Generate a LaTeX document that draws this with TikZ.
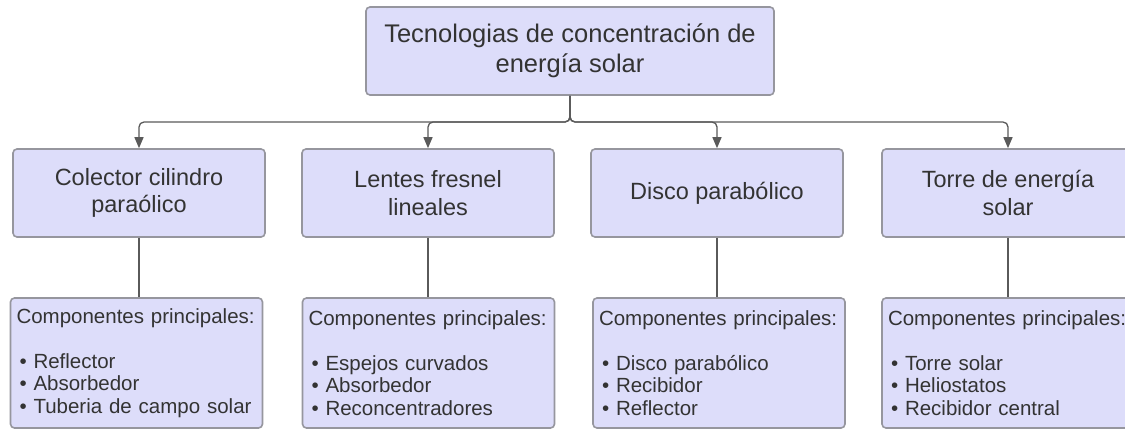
\documentclass[tikz,border=0pt]{standalone}
\usepackage{fontspec}
\setmainfont{Liberation Sans}
\usetikzlibrary{arrows.meta}
\definecolor{boxfill}{RGB}{221,221,250}
\definecolor{boxline}{RGB}{150,150,158}
\definecolor{txtgray}{RGB}{51,51,51}
\definecolor{wiregray}{RGB}{90,90,90}
\newcommand{\blt}{\hspace*{3pt}•~}
\tikzset{
  basebox/.style={draw=boxline, line width=1.6pt, fill=boxfill, rounded corners=4pt,
                  text=txtgray, minimum width=252pt, inner sep=0pt},
  topbox/.style={basebox, minimum width=408pt, minimum height=88pt, align=center,
                 font=\fontsize{25.5}{30}\selectfont},
  techbox/.style={basebox, minimum height=88pt, align=center,
                  font=\fontsize{23.5}{27.5}\selectfont},
  partbox/.style={basebox, minimum height=130pt, text width=240pt, inner xsep=6pt,
                  align=left, font=\fontsize{20.5}{22.5}\selectfont},
  wire/.style={draw=wiregray, line width=1.3pt},
  arrowwire/.style={wire, rounded corners=5pt, -{Triangle[length=11pt,width=9pt]}}
}
\begin{document}
\begin{tikzpicture}[x=1pt,y=-1pt]
\useasboundingbox[fill=white] (0,0) rectangle (1125,429);
% main box
\node[topbox] (tech) at (570,51) {Tecnologias de concentración de\\energía solar};
\coordinate (bus) at (570,122); % branching point
% technologies
\node[techbox] (ccp) at (139,193) {Colector cilindro\\paraólico};
\node[techbox] (lfl) at (428,193) {Lentes fresnel\\lineales};
\node[techbox] (dp) at (717,193) {Disco parabólico};
\node[techbox] (tes) at (1008,193) {Torre de energía\\solar};
% components
\node[partbox] (ccpc) at (136.5,363) {Componentes principales:\\[22.5pt]%
  \blt Reflector\\\blt Absorbedor\\\blt Tuberia de campo solar};
\node[partbox] (lflc) at (428.5,363) {Componentes principales:\\[22.5pt]%
  \blt Espejos curvados\\\blt Absorbedor\\\blt Reconcentradores};
\node[partbox] (dpc) at (719,363) {Componentes principales:\\[22.5pt]%
  \blt Disco parabólico\\\blt Recibidor\\\blt Reflector};
\node[partbox] (tesc) at (1008,363) {Componentes principales:\\[22.5pt]%
  \blt Torre solar\\\blt Heliostatos\\\blt Recibidor central};
% arrows from main box
\foreach \t in {ccp,lfl,dp,tes}
  \draw[arrowwire] (tech.south) -- (bus) -| (\t.north);
% plain lines down to components
\foreach \t in {ccp,lfl,dp,tes}
  \draw[wire] (\t.south) -- (\t.south |- \t c.north);
\end{tikzpicture}
\end{document}
